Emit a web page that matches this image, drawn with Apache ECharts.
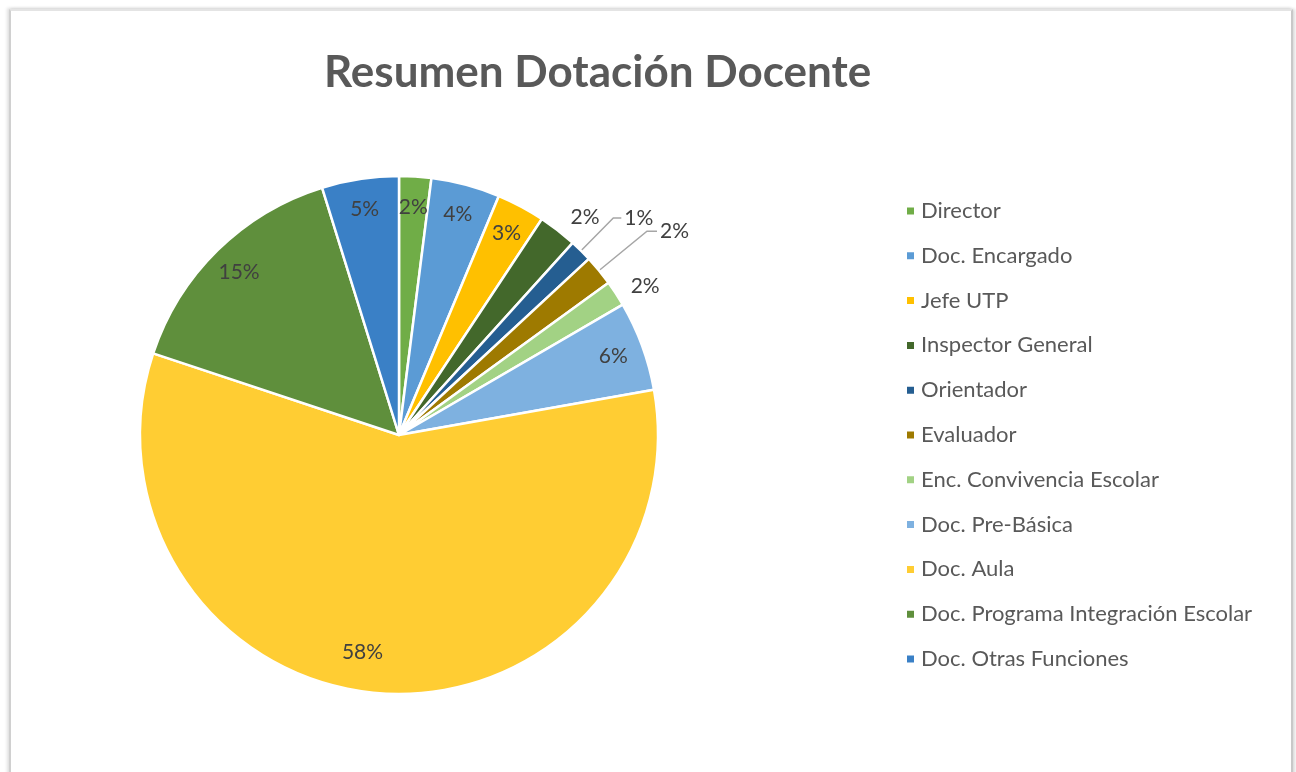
<!DOCTYPE html>
<html>
<head>
<meta charset="utf-8">
<script src="https://cdn.jsdelivr.net/npm/echarts@6/dist/echarts.min.js"></script>
<style>
  html, body { margin: 0; padding: 0; background: #ffffff; }
  #frame { position: absolute; left: 9px; top: 9px; width: 1280px; height: 780px;
           border-left: 2px solid #d0d0d0; border-top: 2px solid #e4e4e4; border-right: 2px solid #c8c8c8;
           box-shadow: -2px -1px 3px rgba(0,0,0,0.12), 2px 0 3px rgba(0,0,0,0.15); }
  #chart { position: absolute; left: 0; top: 0; width: 1296px; height: 772px; }
</style>
</head>
<body>
<div id="frame"></div>
<div id="chart"></div>
<script>
const titleText = 'Resumen Dotación Docente';
const categories = [
  'Director', 'Doc. Encargado', 'Jefe UTP', 'Inspector General', 'Orientador',
  'Evaluador', 'Enc. Convivencia Escolar', 'Doc. Pre-Básica', 'Doc. Aula',
  'Doc. Programa Integración Escolar', 'Doc. Otras Funciones'
];
const values = [2.0, 4.3, 3.0, 2.4, 1.4, 1.9, 1.6, 5.6, 57.9, 15.1, 4.8];
const colors = ['#70AD47', '#5B9BD5', '#FFC000', '#43682B', '#255E91',
                '#9E7A00', '#A2D284', '#7EB1E0', '#FFCD33', '#5F8F3C', '#3A80C6'];
// which labels sit outside the pie (Excel best-fit)
const outsideLabel = [false, false, false, true, true, true, true, false, false, false, false];

const C = [399, 435];
const R = 259;
const FONT = 'Lato, "Open Sans", sans-serif';
const labelStyle = { fontFamily: FONT, fontSize: 21, color: '#404040' };

const outsideLines = { 3: [16, 0, false], 4: [46, 8, true], 5: [62, 10, true], 6: [14, 0, false] };

const mainData = categories.map((n, i) => {
  const d = { name: n, value: values[i], itemStyle: { color: colors[i] } };
  if (outsideLabel[i]) {
    const l = outsideLines[i];
    d.label = { show: true, position: 'outside', distanceToLabelLine: 3 };
    d.labelLine = { show: l[2], length: l[0], length2: l[1], lineStyle: { color: '#a6a6a6', width: 1.5 } };
  }
  return d;
});
const ringData = categories.map((n, i) => ({
  name: n, value: values[i],
  label: { show: !outsideLabel[i] }
}));
// Excel best-fit nudges the big slice's label toward the left
ringData[8].label.offset = [-20, -10];

const chart = echarts.init(document.getElementById('chart'), null, { renderer: 'canvas' });
chart.setOption({
  backgroundColor: 'transparent',
  animation: false,
  color: colors,
  title: {
    text: titleText, left: 319, top: 46,
    textStyle: { fontFamily: FONT, fontSize: 44, fontWeight: 'bold', color: '#595959' }
  },
  legend: {
    orient: 'vertical', left: 900, top: 195,
    icon: 'rect', itemWidth: 9, itemHeight: 9, itemGap: 22.8,
    data: categories,
    textStyle: { fontFamily: FONT, fontSize: 22, color: '#595959', lineHeight: 22, padding: [0, 0, 0, 1] }
  },
  series: [
    {
      name: 'main', type: 'pie', center: C, radius: [0, R],
      startAngle: 90, clockwise: true, avoidLabelOverlap: false,
      percentPrecision: 0,
      itemStyle: { borderColor: '#ffffff', borderWidth: 2.5 },
      label: Object.assign({ show: false, formatter: '{d}%' }, labelStyle),
      labelLine: { show: false },
      emphasis: { disabled: true },
      data: mainData
    },
    {
      name: 'labels', type: 'pie', center: C, radius: [R * 0.74, R],
      startAngle: 90, clockwise: true, avoidLabelOverlap: false, silent: true,
      percentPrecision: 0,
      legendHoverLink: false,
      itemStyle: { color: 'rgba(0,0,0,0)', borderWidth: 0 },
      label: Object.assign({ show: true, position: 'inside', formatter: '{d}%' }, labelStyle),
      labelLine: { show: false },
      emphasis: { disabled: true },
      data: ringData
    }
  ]
});
</script>
</body>
</html>
